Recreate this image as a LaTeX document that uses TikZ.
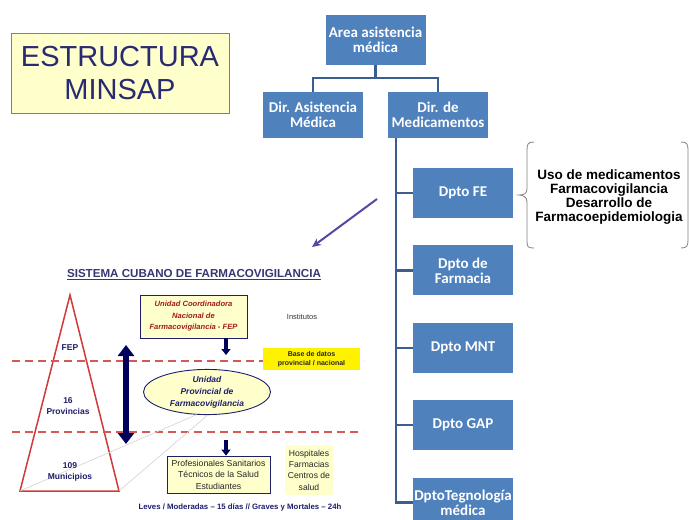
\documentclass[tikz,border=0pt]{standalone}
\usepackage{fontspec}
\setmainfont{Liberation Sans}
\newfontfamily\calibri{Carlito}
\usetikzlibrary{positioning}
\usetikzlibrary{calc}
\usetikzlibrary{arrows.meta}
\usetikzlibrary{shapes.geometric}
\definecolor{orgblue}{HTML}{4F81BD}
\definecolor{orgline}{HTML}{3A5F8F}
\definecolor{paleyellow}{HTML}{FFFFCC}
\definecolor{titleblue}{HTML}{2A2A72}
\definecolor{slidenavy}{HTML}{1E1E6E}
\definecolor{slidered}{HTML}{D03A3A}
\definecolor{darkred}{HTML}{A01C1C}
\definecolor{arrowviolet}{HTML}{5646A6}
\definecolor{deepnavy}{HTML}{00005A}

\begin{document}
\begin{tikzpicture}[x=1pt, y=-1pt,
    org/.style={fill=orgblue, text=white, inner sep=0pt, minimum width=100pt, align=center, font=\calibri\bfseries\fontsize{15}{15}\selectfont},
    dpto/.style={org, minimum height=50pt},
    link/.style={orgline, line width=2.4pt},
    box/.style={draw=slidenavy, fill=paleyellow, inner sep=0pt, align=center, line width=0.9pt},
    level/.style={text=slidenavy, align=center, font=\bfseries\fontsize{8.5}{10.5}\selectfont},
    drop/.style={deepnavy, line width=3.5pt, -{Triangle[width=9pt,length=6pt]}}]
            \clip (0,0) rectangle (689,520);
            \fill[white] (0,0) rectangle (689,520);

            \node[draw=gray, fill=paleyellow, minimum width=218pt, minimum height=80pt, text=titleblue, align=center, font=\fontsize{29}{33}\selectfont] (title) at (120,73) {ESTRUCTURA\\MINSAP};

            \node[org, minimum height=50pt] (area) at (375.5,40) {Area asistencia\\médica};
            \node[org, minimum height=46pt] (dirA) at (313,115) {Dir. Asistencia\\Médica};
            \node[org, minimum height=46pt] (dirM) at (438,115) {Dir. de\\Medicamentos};
            \node[dpto] (dFE) at (463,193) {Dpto FE};
            \node[dpto, below=27pt of dFE] (dFar) {Dpto de\\Farmacia};
            \node[dpto, below=27pt of dFar] (dMNT) {Dpto MNT};
            \node[dpto, below=27pt of dMNT] (dGAP) {Dpto GAP};
            \node[dpto, below=27pt of dGAP] (dTec) {DptoTegnología\\médica};

            \draw[link] (area.south) -- ++(0,13) -| (dirA.north);
            \draw[link] (area.south) ++(0,13) -| (dirM.north);
            \coordinate (spine) at ($(dirM.south west)+(8,0)$);
            \foreach \d in {dFE,dFar,dMNT,dGAP,dTec}
                \draw[link] (spine) |- (\d.west);

            \node[align=center, font=\bfseries\fontsize{13.5}{13.7}\selectfont] (uses) at (609,197) {Uso de medicamentos\\Farmacovigilancia\\Desarrollo de\\Farmacoepidemiologia};
            \draw[gray, line width=0.8pt] (534,142) .. controls (528,142) and (527,144) .. (527,150) -- (527,189) .. controls (527,194) and (523,195) .. (519,195) .. controls (523,195) and (527,197) .. (527,202) -- (527,241) .. controls (527,247) and (528,248) .. (534,248);
            \draw[gray, line width=0.8pt] (681,142) .. controls (687,142) and (688,144) .. (688,150) -- (688,240) .. controls (688,246) and (687,248) .. (681,248);

            \coordinate (from) at (377,199);
            \coordinate (to) at (312,247);
            \draw[arrowviolet, line width=2pt, -{Stealth[length=9pt,width=8pt]}] (from) -- (to);

            \node[text=titleblue!85!gray, font=\bfseries\fontsize{11.6}{12}\selectfont] (sctitle) at (194,275) {\underline{SISTEMA CUBANO DE FARMACOVIGILANCIA}};

            \coordinate (apex) at (70,295);
            \coordinate (baseL) at (20,491);
            \coordinate (baseR) at (119,491);
            \draw[slidered, line width=1.5pt, line join=miter] (apex) -- (baseR) -- (baseL) -- cycle;
            \draw[slidered!85!white, line width=1.5pt, dash pattern=on 8pt off 5pt] (12,361) -- (363,361);
            \draw[slidered!85!white, line width=1.5pt, dash pattern=on 8pt off 5pt] (12,432) -- (363,432);

            \node[box, minimum width=107pt, minimum height=43pt, text=darkred, font=\bfseries\itshape\fontsize{7.6}{11.5}\selectfont] (nac) at (193.5,316.5) {Unidad Coordinadora\\Nacional de\\Farmacovigilancia - FEP};
            \node[text=black!80, font=\fontsize{7.5}{8}\selectfont] (inst) at (302,317) {Institutos};
            \node[fill=yellow, minimum width=97pt, minimum height=22pt, inner sep=0pt, align=center, text=black!85, font=\bfseries\fontsize{7}{9.5}\selectfont] (bd) at (311.5,359) {Base de datos\\provincial / nacional};
            \node[box, ellipse, minimum width=127pt, minimum height=44pt, text=slidenavy, font=\bfseries\itshape\fontsize{8.5}{12}\selectfont] (prov) at (207,392) {Unidad\\Provincial de\\Farmacovigilancia};
            \draw[gray!35, line width=0.6pt] (baseL) -- (prov.245);
            \draw[gray!35, line width=0.6pt] (baseR) -- (prov.272);

            \coordinate (up) at (126,345);
            \coordinate (down) at (126,444);
            \draw[deepnavy, line width=6pt, {Triangle[width=16pt,length=11pt]}-{Triangle[width=16pt,length=11pt]}] (up) -- (down);

            \node[level] (fep) at (70,348) {FEP};
            \node[level] (prv) at (68,406) {16\\Provincias};
            \node[level] (mun) at (70,472) {109\\Municipios};

            \node[box, minimum width=103pt, minimum height=37pt, text=black!85, font=\fontsize{8.7}{11.5}\selectfont] (prof) at (218.5,474.5) {Profesionales Sanitarios\\Técnicos de la Salud\\Estudiantes};
            \node[fill=paleyellow, minimum width=48pt, minimum height=50pt, inner sep=0pt, align=center, text=black!85, font=\fontsize{8.6}{11.3}\selectfont] (hosp) at (309,470) {Hospitales\\Farmacias\\Centros de\\salud};

            \coordinate (drop1) at (226,338);
            \draw[drop] (drop1) -- ++(0,17);
            \coordinate (drop2) at (226,440);
            \draw[drop] (drop2) -- (drop2 |- prof.north);

            \node[text=slidenavy, font=\bfseries\fontsize{7.8}{9}\selectfont] (plazos) at (240,507) {Leves / Moderadas – 15 días // Graves y Mortales – 24h};
\end{tikzpicture}
\end{document}
